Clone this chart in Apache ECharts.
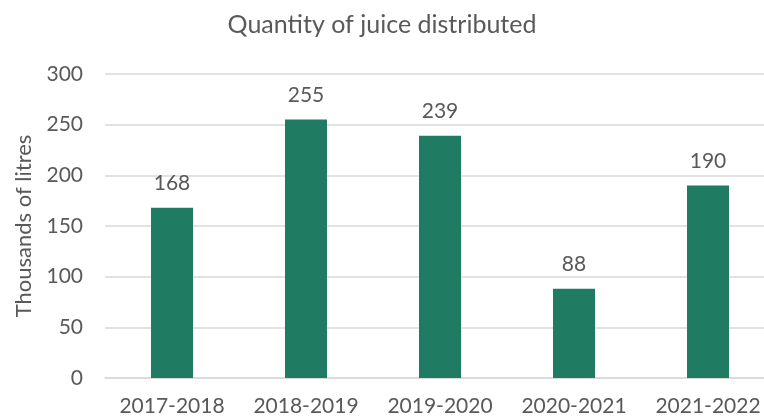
<!DOCTYPE html>
<html>
<head>
<meta charset="utf-8">
<script src="https://cdn.jsdelivr.net/npm/echarts@6/dist/echarts.min.js"></script>
<style>
    html, body { margin: 0; padding: 0; background: #fff; }
    #chart { width: 764px; height: 419px; }
</style>
</head>
<body>
<div id="chart"></div>
<script>
    // values
    var seasons = ['2017-2018', '2018-2019', '2019-2020', '2020-2021', '2021-2022'];
    var litres = [168, 255, 239, 88, 190];

    var textColor = '#595959';
    var font = 'Lato';

    var option = {
        animation: false,
        title: {
            text: 'Quantity of juice distributed',
            left: 'center',
            top: 7,
            textStyle: { color: textColor, fontFamily: font, fontSize: 25, fontWeight: 'normal' }
        },
        grid: {
            left: 105,
            width: 670,
            top: 74,
            bottom: 41,
            outerBoundsMode: 'none'
        },
        xAxis: {
            type: 'category',
            data: seasons,
            axisTick: { show: false },
            axisLine: { lineStyle: { color: '#d9d9d9', width: 1.5 } },
            axisLabel: { color: textColor, fontFamily: font, fontSize: 21, margin: 18, interval: 0 }
        },
        yAxis: {
            type: 'value',
            min: 0,
            max: 300,
            interval: 50,
            name: 'Thousands of litres',
            nameLocation: 'middle',
            nameGap: 70,
            nameTextStyle: { color: textColor, fontFamily: font, fontSize: 22 },
            axisLabel: { color: textColor, fontFamily: font, fontSize: 21, margin: 22 },
            splitLine: { lineStyle: { color: '#d9d9d9', width: 1.5 } }
        },
        series: [{
            type: 'bar',
            data: litres,
            barWidth: 42,
            itemStyle: { color: '#1f7c63' },
            label: {
                show: true,
                position: 'top',
                distance: 14,
                color: textColor,
                fontFamily: font,
                fontSize: 21
            }
        }]
    };

    echarts.init(document.getElementById('chart')).setOption(option);
</script>
</body>
</html>
